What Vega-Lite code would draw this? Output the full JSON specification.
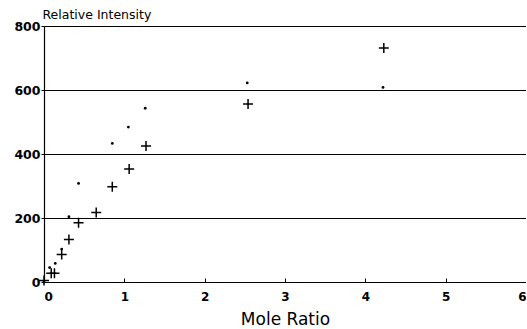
{
  "$schema": "https://vega.github.io/schema/vega-lite/v6.json",
  "autosize": {"type": "none"},
  "padding": {"left": 44, "top": 26, "right": 0, "bottom": 47},
  "width": 482,
  "height": 256,
  "background": "white",
  "config": {
    "view": {"stroke": null},
    "font": "DejaVu Sans"
  },
  "data": {
    "values": [
      {"ratio": 0.0, "intensity": 5, "series": "plus"},
      {"ratio": 0.09, "intensity": 27, "series": "plus"},
      {"ratio": 0.13, "intensity": 27, "series": "plus"},
      {"ratio": 0.22, "intensity": 86, "series": "plus"},
      {"ratio": 0.31, "intensity": 133, "series": "plus"},
      {"ratio": 0.43, "intensity": 185, "series": "plus"},
      {"ratio": 0.65, "intensity": 217, "series": "plus"},
      {"ratio": 0.85, "intensity": 298, "series": "plus"},
      {"ratio": 1.06, "intensity": 353, "series": "plus"},
      {"ratio": 1.27, "intensity": 425, "series": "plus"},
      {"ratio": 2.54, "intensity": 556, "series": "plus"},
      {"ratio": 4.23, "intensity": 731, "series": "plus"},
      {"ratio": 0.0, "intensity": 0, "series": "dot"},
      {"ratio": 0.07, "intensity": 45, "series": "dot"},
      {"ratio": 0.14, "intensity": 58, "series": "dot"},
      {"ratio": 0.22, "intensity": 103, "series": "dot"},
      {"ratio": 0.31, "intensity": 204, "series": "dot"},
      {"ratio": 0.43, "intensity": 308, "series": "dot"},
      {"ratio": 0.85, "intensity": 433, "series": "dot"},
      {"ratio": 1.05, "intensity": 484, "series": "dot"},
      {"ratio": 1.26, "intensity": 543, "series": "dot"},
      {"ratio": 2.53, "intensity": 622, "series": "dot"},
      {"ratio": 4.22, "intensity": 608, "series": "dot"}
    ]
  },
  "encoding": {
    "x": {
      "field": "ratio", "type": "quantitative",
      "scale": {"domain": [0, 6], "nice": false},
      "axis": {
        "values": [0, 1, 2, 3, 4, 5, 6],
        "title": "Mole Ratio",
        "titleFontSize": 17, "titleFontWeight": "normal", "titleColor": "black",
        "titleBaseline": "alphabetic", "titleY": 42,
        "labelFontSize": 12, "labelFontWeight": "bold", "labelColor": "black", "labelPadding": 13,
        "domainColor": "black", "domainWidth": 1.2,
        "tickColor": "black", "tickSize": -4, "tickWidth": 1,
        "grid": false
      }
    },
    "y": {
      "field": "intensity", "type": "quantitative",
      "scale": {"domain": [0, 800], "nice": false},
      "axis": {
        "values": [0, 200, 400, 600, 800],
        "title": "Relative Intensity",
        "titleAngle": 0, "titleAlign": "left", "titleBaseline": "alphabetic",
        "titleX": -2, "titleY": -8,
        "titleFontSize": 12.5, "titleFontWeight": "normal", "titleColor": "black",
        "labelFontSize": 12.5, "labelFontWeight": "bold", "labelColor": "black", "labelPadding": 1,
        "domainColor": "black", "domainWidth": 1.2,
        "tickColor": "black", "tickSize": 3,
        "grid": true, "gridColor": "black", "gridWidth": 1, "gridOpacity": 1
      }
    }
  },
  "layer": [
    {
      "transform": [{"filter": "datum.series === 'plus'"}],
      "mark": {"type": "point", "shape": "M-1,0H1M0,-1V1", "size": 100, "stroke": "black", "strokeWidth": 1.5, "filled": false, "opacity": 1}
    },
    {
      "transform": [{"filter": "datum.series === 'dot'"}],
      "mark": {"type": "point", "shape": "circle", "size": 8, "fill": "black", "filled": true, "opacity": 1, "strokeWidth": 0}
    }
  ]
}
